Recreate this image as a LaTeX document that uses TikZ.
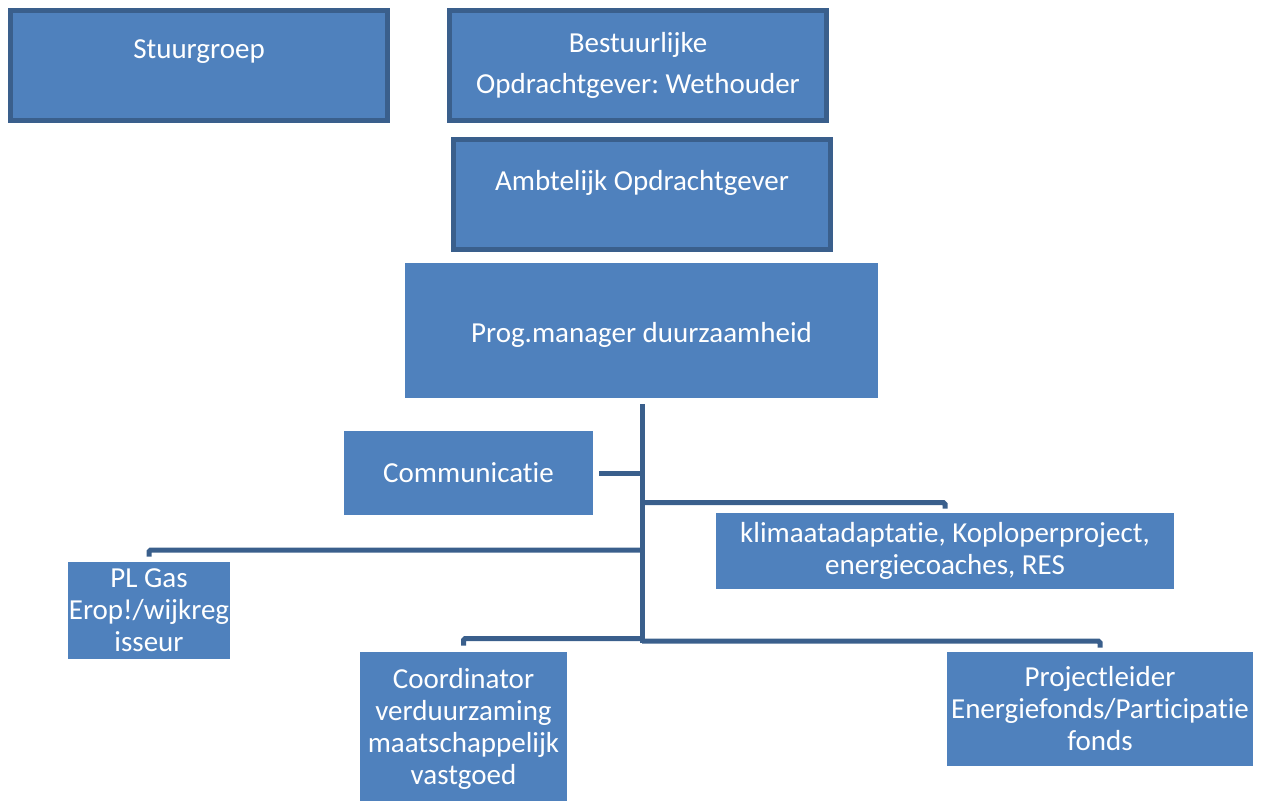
\documentclass[tikz,border=0pt]{standalone}
\usepackage{fontspec}
\setmainfont{Carlito}[Ligatures=NoCommon]
\usepackage{tikz}
\usetikzlibrary{calc}
\definecolor{orgfill}{HTML}{4F81BD}
\definecolor{orgline}{HTML}{3A5F8C}
\newcommand{\orgfont}{\fontsize{16.5}{18.2}\selectfont}
\frenchspacing
\tikzset{
	orgbox/.style={fill=orgfill, text=white, align=center, inner sep=0pt, font=\orgfont},
	framedbox/.style={orgbox, draw=orgline, line width=0.1cm},
	orglink/.style={draw=orgline, line width=0.1cm, rounded corners=1pt}
}

\begin{document}
\begin{tikzpicture}[x=0.02cm, y=-0.02cm]
			%%%%% START %%%%%
			\useasboundingbox (0, 0) rectangle (1262, 801);
			
			\node[framedbox, minimum width=7.54cm, minimum height=2.2cm] (stuur) at (199, 65.5) {Stuurgroep\\[-5pt]\strut};
			\node[framedbox, minimum width=7.54cm, minimum height=2.2cm] (bestuur) at (638, 65.5) {Bestuurlijke\\[5pt]Opdrachtgever: Wethouder};
			\node[framedbox, minimum width=7.54cm, minimum height=2.2cm] (ambt) at (642, 194.5) {Ambtelijk Opdrachtgever\\[-8pt]\strut};
			
			\node[orgbox, minimum width=9.46cm, minimum height=2.7cm] (prog) at (641.5, 330.5) {\rule{0pt}{16pt}Prog.manager duurzaamheid};
			\node[orgbox, minimum width=4.98cm, minimum height=1.68cm] (comm) at (468.5, 473) {Communicatie};
			\node[orgbox, minimum width=9.16cm, minimum height=1.52cm] (klim) at (945, 551) {klimaatadaptatie, Koploperproject,\\energiecoaches, RES};
			\node[orgbox, minimum width=3.24cm, minimum height=1.94cm] (plgas) at (149, 610.5) {PL Gas\\Erop!/wijkreg\\isseur};
			\node[orgbox, minimum width=4.14cm, minimum height=3.06cm] (coord) at (463.5, 728.5) {Coordinator\\verduurzaming\\maatschappelijk\\vastgoed};
			\node[orgbox, minimum width=6.12cm, minimum height=2.28cm] (proj) at (1100, 709) {Projectleider\\Energiefonds/Participatie\\fonds};
			
			% trunk and branch points
			\coordinate (trunkend) at (642, 643);
			\coordinate (jcomm) at (642, 473);
			\coordinate (jklim) at (642, 502.5);
			\coordinate (jgas) at (642, 550);
			\coordinate (jcoord) at (642, 638.5);
			\coordinate (jproj) at (642, 641);
			
			\draw[orglink, shorten <=0.12cm] (prog.south -| trunkend) -- (trunkend);
			\draw[orglink, shorten >=0.12cm] (jcomm) -- (comm);
			\draw[orglink, shorten >=0.08cm] (jklim) -| (klim);
			\draw[orglink, shorten >=0.1cm] (jgas) -| (plgas);
			\draw[orglink, shorten >=0.12cm] (jcoord) -| (coord);
			\draw[orglink, shorten >=0.08cm] (jproj) -| (proj);
			
			%%%%% END %%%%%
		\end{tikzpicture}
\end{document}
